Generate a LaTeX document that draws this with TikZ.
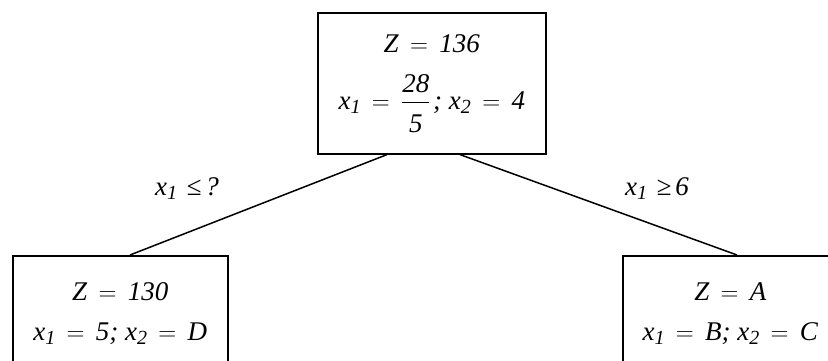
\documentclass[tikz,border=0pt]{standalone}
\usepackage{amsmath}
\usepackage{fontspec}
\setmainfont{Liberation Serif}[ItalicFont={Liberation Serif Italic}]
\usetikzlibrary{positioning}
\newcommand{\lowsub}[1]{\raisebox{-4pt}{\fontsize{20}{20}\selectfont #1}}
\newcommand{\eqs}{\hspace{0.42em}$=$\hspace{0.42em}}

\begin{document}
\begin{tikzpicture}[x=1pt, y=-1pt,
    solbox/.style={draw, line width=1.6pt, anchor=north west, inner xsep=4pt,
      align=center, font=\fontsize{27}{40}\selectfont\itshape},
    cutlabel/.style={anchor=base west, inner sep=0pt,
      font=\fontsize{27}{37}\selectfont\itshape},
    branch/.style={line width=1.5pt}]
  \clip (0,0) rectangle (828,361);
  % --- root problem ---
  \node[solbox, minimum width=228pt, minimum height=141pt, inner ysep=18pt]
    (root) at (317,12)
    {Z\eqs 136\\[17pt]
     x\lowsub{1}\eqs$\dfrac{\textit{28}}{\raisebox{-6pt}{\textit{5}}}$\hspace{0.1em};
     x\lowsub{2}\eqs 4};
  % --- branches ---
  \node[solbox, minimum width=215pt, inner ysep=27pt] (lft) at (12,255)
    {Z\eqs 130\\x\lowsub{1}\eqs 5; x\lowsub{2}\eqs D};
  \node[solbox, minimum width=215pt, inner ysep=27pt] (rgt) at (622,255)
    {Z\eqs A\\x\lowsub{1}\eqs B; x\lowsub{2}\eqs C};
  % --- connectors ---
  \draw[branch] ([xshift=70pt]root.south west) -- ([xshift=118pt]lft.north west);
  \draw[branch] ([xshift=143pt]root.south west) -- ([xshift=115pt]rgt.north west);
  % --- cut labels ---
  \node[cutlabel] (cutle) at (155,195) {x\lowsub{1}\hspace{0.35em}≤\hspace{0.15em}?};
  \node[cutlabel] (cutge) at (625,195) {x\lowsub{1}\hspace{0.35em}≥\hspace{0.15em}6};
\end{tikzpicture}
\end{document}
